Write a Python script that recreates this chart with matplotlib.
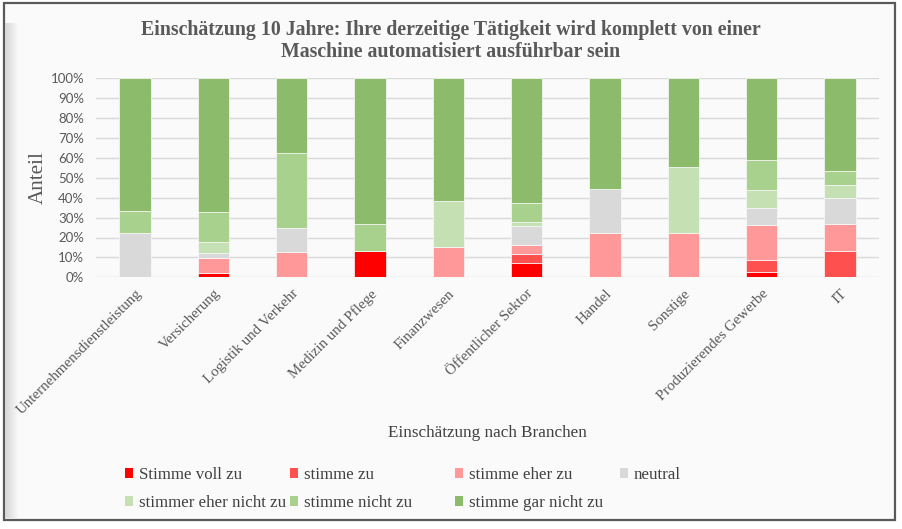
import matplotlib
matplotlib.use("Agg")
import matplotlib.pyplot as plt
from matplotlib.patches import Rectangle, Patch
import numpy as np

categories = ["Unternehmensdienstleistung", "Versicherung", "Logistik und Verkehr",
              "Medizin und Pflege", "Finanzwesen", "Öffentlicher Sektor", "Handel",
              "Sonstige", "Produzierendes Gewerbe", "IT"]
series_names = ["Stimme voll zu", "stimme zu", "stimme eher zu", "neutral",
                "stimmer eher nicht zu", "stimme nicht zu", "stimme gar nicht zu"]
stimme_voll_zu      = [0.0, 2.3, 0.0, 13.3, 0.0, 7.0, 0.0, 0.0, 2.7, 0.0]
stimme_zu           = [0.0, 0.0, 0.0, 0.0, 0.0, 4.65, 0.0, 0.0, 6.0, 13.3]
stimme_eher_zu      = [0.0, 7.4, 12.5, 0.0, 15.4, 4.65, 22.2, 22.2, 17.8, 13.3]
neutral             = [22.2, 2.5, 12.5, 0.0, 0.0, 9.3, 22.2, 0.0, 8.5, 13.3]
stimmer_eher_nicht  = [0.0, 5.6, 0.0, 0.0, 23.1, 2.3, 0.0, 33.3, 9.1, 6.7]
stimme_nicht_zu     = [11.1, 14.9, 37.5, 13.3, 0.0, 9.3, 0.0, 0.0, 14.9, 6.7]
stimme_gar_nicht_zu = [66.7, 67.3, 37.5, 73.4, 61.5, 62.8, 55.6, 44.5, 41.0, 46.7]
colors = ["#FF0000", "#FF5050", "#FF9999", "#D9D9D9", "#C5E0B3", "#A9D18E", "#8CBB6C"]
yticks = [0, 10, 20, 30, 40, 50, 60, 70, 80, 90, 100]

series = [stimme_voll_zu, stimme_zu, stimme_eher_zu, neutral,
          stimmer_eher_nicht, stimme_nicht_zu, stimme_gar_nicht_zu]

W, H = 902, 529
fig = plt.figure(figsize=(W / 100, H / 100), dpi=100)
fig.patch.set_facecolor("white")
bg = "#FAFAFA"
# frame
fig.patches.append(Rectangle((4 / W, 1 - 520 / H), 891 / W, 517 / H, transform=fig.transFigure,
                             facecolor=bg, edgecolor="#595959", lw=1.6, zorder=-3))
# bevel shadow on left
for i in range(14):
    c = 0.84 + 0.14 * i / 13
    fig.patches.append(Rectangle(((5 + i) / W, 1 - 518 / H), 1 / W, 495 / H,
                                 transform=fig.transFigure, facecolor=(c, c, c),
                                 edgecolor="none", zorder=-2))

ax = fig.add_axes([96 / W, 1 - 277.3 / H, 783 / W, 199 / H])
ax.set_facecolor(bg)
ax.patch.set_alpha(0)

x = np.arange(len(categories))
bottom = np.zeros(len(categories))
handles = []
for name, vals, col in zip(series_names, series, colors):
    v = np.array(vals, dtype=float)
    ax.bar(x, v, 0.4, bottom=bottom, color=col, edgecolor=bg, linewidth=0.5, zorder=3)
    bottom += v
    handles.append(Patch(facecolor=col, edgecolor="none", label=name))

ax.set_xlim(-0.5, len(categories) - 0.5)
ax.set_ylim(0, 100)
ax.set_yticks(yticks)
ax.set_yticklabels([f"{t}%" for t in yticks], fontfamily="Lato", fontsize=9.5, color="#595959")
ax.grid(axis="y", color="#D9D9D9", lw=1, zorder=0)
ax.tick_params(axis="both", length=0)
ax.tick_params(axis="y", pad=8.5)
for s in ax.spines.values():
    s.set_visible(False)

ax.set_xticks(x)
ax.set_xticklabels(categories, rotation=45, ha="right", va="top", rotation_mode="anchor",
                   fontfamily="Liberation Serif", fontsize=10.8, color="#595959")
ax.tick_params(axis="x", pad=7)

ax.set_ylabel("Anteil", fontfamily="Liberation Serif", fontsize=15.2, color="#595959")
ax.yaxis.set_label_coords(-48 / 783, 0.5)
fig.text(487.5 / W, 1 - 433 / H, "Einschätzung nach Branchen", ha="center", va="center",
         fontfamily="Liberation Serif", fontsize=12.3, color="#404040")

fig.text(451 / W, 1 - 41 / H,
         "Einschätzung 10 Jahre: Ihre derzeitige Tätigkeit wird komplett von einer\nMaschine automatisiert ausführbar sein",
         ha="center", va="center", fontfamily="Liberation Serif", fontsize=14.3, fontweight="bold",
         color="#595959", linespacing=1.15)

# legend: 4 columns of equal width
cols = [[0, 4], [1, 5], [2, 6], [3]]
for ci, idxs in enumerate(cols):
    leg = fig.legend(handles=[handles[i] for i in idxs], loc="upper left",
                     bbox_to_anchor=((125 + 165 * ci) / W, 1 - 467 / H),
                     frameon=False, prop={"family": "Liberation Serif", "size": 12.2},
                     handlelength=0.5, handleheight=0.5, handletextpad=0.3,
                     labelspacing=0.72, borderpad=0, borderaxespad=0)
    for t in leg.get_texts():
        t.set_color("#404040")

fig.savefig("out.png", dpi=100, facecolor="white")
